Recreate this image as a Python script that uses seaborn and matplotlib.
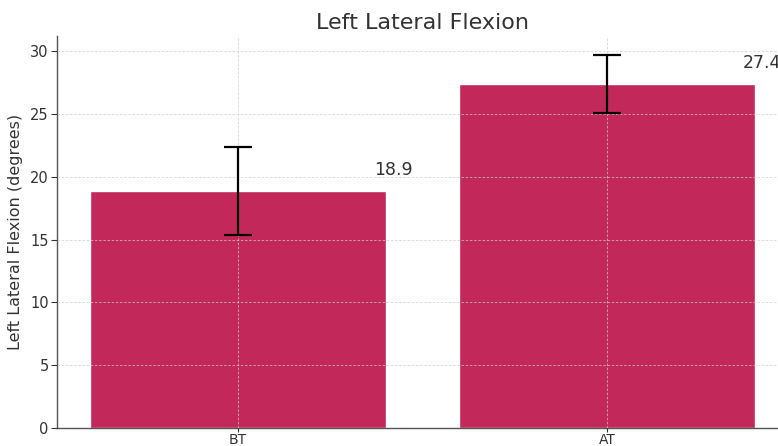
import matplotlib
matplotlib.use("Agg")
import matplotlib.pyplot as plt
import seaborn as sns
import pandas as pd

categories = ["BT", "AT"]
means = [18.9, 27.4]
errors = [3.5, 2.3]
bar_color = "#C2295A"

sns.set_theme(style="white")
plt.rcParams['font.family'] = ['DejaVu Sans']

df = pd.DataFrame({"cond": categories, "val": means})

fig = plt.figure(figsize=(7.78, 4.46), dpi=100)
ax = fig.add_axes([57/778, 18/446, 731/778, 392/446])

sns.barplot(data=df, x="cond", y="val", color=bar_color, saturation=1,
            width=0.8, errorbar=None, ax=ax, zorder=1)
ax.errorbar(range(len(categories)), means, yerr=errors, fmt="none",
            ecolor="black", elinewidth=1.6, capsize=10, capthick=1.6, zorder=3)

for i, (m, e) in enumerate(zip(means, errors)):
    ax.text(i + 0.42, m + 0.9, f"{m}", ha="center", va="bottom",
            fontsize=12.5, color="#333333")

ax.set_xlim(-0.49, 1.49)
ax.set_ylim(0, 31.2)
ax.set_yticks([0, 5, 10, 15, 20, 25, 30])
ax.set_axisbelow(False)
ax.grid(True, linestyle=(0, (3, 2)), linewidth=0.6, color="#cccccc", alpha=0.8, zorder=2)

ax.set_title("Left Lateral Flexion", fontsize=16, color="#333333", pad=5)
ax.set_ylabel("Left Lateral Flexion (degrees)", fontsize=11.5, color="#333333", labelpad=5)
ax.set_xlabel("")
ax.tick_params(axis="y", labelsize=10.5, colors="#333333", length=4,
               left=True, width=0.8, pad=2)
ax.tick_params(axis="x", labelsize=10, colors="#333333", length=3,
               bottom=True, width=0.8, pad=0.5)

for s in ["top", "right"]:
    ax.spines[s].set_visible(False)
for s in ["left", "bottom"]:
    ax.spines[s].set_color("#555555")
    ax.spines[s].set_linewidth(1.0)

fig.savefig("out.png", dpi=100)
